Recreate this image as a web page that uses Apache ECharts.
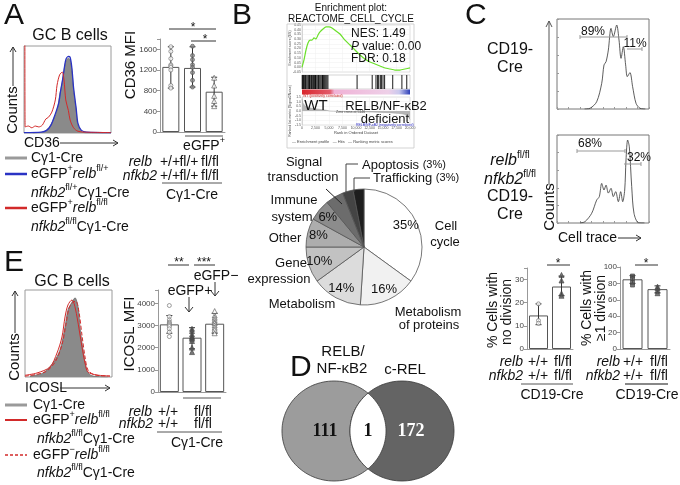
<!DOCTYPE html>
<html><head><meta charset="utf-8">
<script src="https://cdn.jsdelivr.net/npm/echarts@6.0.0/dist/echarts.min.js"></script>
<style>html,body{margin:0;padding:0;background:#fff}#c{width:680px;height:485px}</style>
</head><body><div id="c"></div>
<script>
const F = 'Liberation Sans';
const PI2 = Math.PI / 2;

// ---------- Panel A: CD36 histogram ----------
const aGray = [[10,0],[18,0.5],[24,2],[30,8],[36,21],[39,30],[41,44],[44,58],[45,66],[48,82],[51,86],[53,84],[55,72],[57,49],[60,26],[62,9],[67,1],[76,0],[100,0]];
const aBlue = [[0,0.5],[20,1],[26,3],[31,9],[36,22],[40,35],[42,48],[45,65],[48,84],[51,88],[53,87],[55,75],[57,52],[60,28],[62,11],[66,3],[72,1],[100,0.5]];
const aRed  = [[1,120],[1.3,7],[5,8],[9,6],[13,8],[17,7],[21,9],[25,16],[28,18],[32,24],[36,38],[38,55],[41,67],[44,70],[46,61],[48,38],[51,26],[53,15],[57,6],[62,2],[70,1],[100,0.5]];
// ---------- Panel A: CD36 MFI bars ----------
const aBars  = [1260, 1240, 780];
const aErrLo = [850, 870, 500];
const aErrHi = [1650, 1650, 1060];
const aDots0 = [1650,1560,1420,1300,1280,1250,1200,900,850];
const aDots1 = [1660,1480,1400,1300,1250,1150,1000,870];
const aDots2 = [1050,900,700,600,500];
// ---------- Panel B: GSEA ----------
const esCurve = [[0,0],[370,0.078],[741,0.184],[1111,0.259],[1481,0.29],[1852,0.29],[2222,0.312],[2593,0.301],[2963,0.344],[3333,0.376],[3889,0.407],[4444,0.429],[5000,0.429],[5556,0.418],[6296,0.386],[7037,0.354],[7963,0.29],[8889,0.237],[9815,0.184],[10741,0.131],[11667,0.088],[12593,0.056],[13519,0.035],[14444,0.014],[15370,-0.007],[16296,-0.018],[17222,-0.029],[18148,-0.029],[19074,-0.018],[20000,-0.007]];
const gseaHits = [50,150,300,420,600,700,900,1100,1250,1400,1500,1700,1800,2000,2100,2300,2500,2600,2800,3000,3100,3300,3500,3700,3800,4000,4200,4400,4600,4800,10200,13000,13700,14000,14200,14500,14700,15000,15300,16800,18500,19400];
const rankMetric = [[0,1.3],[150,0.9],[400,0.65],[900,0.45],[1800,0.3],[3000,0.2],[4500,0.08],[5146,0],[8000,-0.05],[12000,-0.1],[16000,-0.18],[18500,-0.3],[19500,-0.5],[20000,-0.9]];
// ---------- Panel B: pie ----------
const pieCats = ['Cell cycle','Metabolism of proteins','Metabolism','Gene expression','Other','Immune system','Signal transduction','Apoptosis','Trafficking'];
const pieVals = [35,16,14,10,8,6,5,3,3];
const pieColors = ['#ffffff','#f1f1f1','#dcdcdc','#c2c2c2','#adadad','#8c8c8c','#6c6c6c','#444444','#1e1e1e'];
// ---------- Panel C: cell trace histograms ----------
const cTop = [[30,0],[35.9,0.8],[43.1,8],[48.6,28.5],[51.1,49],[53.3,52.5],[55.8,65.5],[58.7,89.6],[61.2,80.4],[64.9,93.3],[67.4,76.7],[69.6,56.3],[72.1,69.2],[74.6,49],[76.4,36],[79.3,40.4],[82.2,24.8],[85.9,6.3],[90.2,0.8],[96,0]];
const cBot = [[25,0],[30.4,1.5],[37.7,11],[43.1,26],[46,30],[48.6,45],[51.1,37.5],[53.3,43],[55.8,34],[58.7,39.4],[61.2,30],[63.8,35.6],[66.7,24.2],[69.2,35.6],[71.4,24.2],[73.6,37.5],[75,71.6],[76.8,94.3],[78.6,86.7],[81.2,41.3],[83.7,11],[88.4,0.4],[95,0]];
// ---------- Panel C: division bars ----------
const c1Bars = [14.5, 27];
const c1ErrLo = [10.5, 23];
const c1ErrHi = [19.5, 31.5];
const c1Dots0 = [19.5, 12.3, 11.1];
const c1Dots1 = [32, 29.6, 24, 23];
const c2Bars = [85, 73];
const c2ErrLo = [80, 68.5];
const c2ErrHi = [89.5, 77];
const c2Dots0 = [89, 86, 81, 78];
const c2Dots1 = [76, 74, 71, 68];
// ---------- Panel E: ICOSL histogram ----------
const eGray = [[5.7,1.1],[20.7,4.6],[32.2,16],[40.2,31],[46,57.5],[49.4,77],[54,86],[57.5,91],[61,80.5],[63.2,57.5],[66.7,31],[70.1,11.5],[72.4,4.6],[78.2,1.1],[95,0]];
const eRed = [[0,2],[13.8,4.6],[28.7,11.5],[36.8,27.6],[42.5,46],[46,69],[49.4,82.8],[54,88.5],[56.3,85],[59.8,69],[65.5,34.5],[69,16],[72.4,5.7],[82.8,2.3],[97.7,1.1]];
const eRedDash = [[0,1],[23,5.7],[34.5,17],[42.5,37],[47,60],[50.6,79],[55.2,86],[58.6,87],[62,75],[65.5,48],[69,23],[72.4,8],[80.5,2.3],[97.7,1.1]];
// ---------- Panel E: ICOSL MFI bars ----------
const eBars = [3050, 2450, 3080];
const eErrLo = [2650, 1950, 2650];
const eErrHi = [3450, 2900, 3550];
const eDots0 = [3900,3400,3250,3150,3100,3050,3000,2950,2850,2700,2500];
const eDots1 = [2850,2750,2600,2500,2450,2400,2300,2000,1800];
const eDots2 = [3650,3450,3350,3250,3150,3100,3000,2900,2800,2650];
// ---------- Panel D: Venn ----------
const vennSets = ['RELB/NF-κB2', 'c-REL'];
const vennOnly = [111, 172];
const vennBoth = 1;

// ================= helpers =================
const R = {
  n:{fontFamily:F,fontSize:14,lineHeight:20,verticalAlign:'middle',fill:'#111'},
  i:{fontFamily:F,fontSize:14,fontStyle:'italic',lineHeight:20,verticalAlign:'middle',fill:'#111'},
  s:{fontFamily:F,fontSize:9,verticalAlign:'top',fill:'#111'}
};
const R16 = {
  n:{fontFamily:F,fontSize:16,lineHeight:22,verticalAlign:'middle',fill:'#111'},
  i:{fontFamily:F,fontSize:16,fontStyle:'italic',lineHeight:22,verticalAlign:'middle',fill:'#111'},
  s:{fontFamily:F,fontSize:10,verticalAlign:'top',fill:'#111'}
};
const R12 = {
  n:{fontFamily:F,fontSize:12,lineHeight:14,verticalAlign:'middle',fill:'#111'},
  i:{fontFamily:F,fontSize:12,fontStyle:'italic',lineHeight:14,verticalAlign:'middle',fill:'#111'}
};
function T(x, y, text, size, o) {
  o = o || {};
  return {type:'text', x:x, y:y, rotation:o.rot||0, z:100, silent:true,
    style:{text:text, font:(o.italic?'italic ':'')+(o.bold?'bold ':'')+size+'px '+(o.family||F),
      fill:o.color||'#111', textAlign:o.align||'left', textVerticalAlign:'middle', rich:o.rich}};
}
function L(x1,y1,x2,y2,o) { o=o||{}; return {type:'line', z:100, silent:true, shape:{x1:x1,y1:y1,x2:x2,y2:y2}, style:{stroke:o.color||'#333', lineWidth:o.w||1, lineDash:o.dash||null}}; }
function P(pts,o) { o=o||{}; return {type:'polyline', z:100, silent:true, shape:{points:pts}, style:{stroke:o.color||'#333', lineWidth:o.w||1, fill:null}}; }

function errRender(params, api) {
  const x = api.value(0), p1 = api.coord([x, api.value(1)]), p2 = api.coord([x, api.value(2)]);
  const w = 3, st = {stroke:'#333', lineWidth:1};
  return {type:'group', children:[
    {type:'line', shape:{x1:p1[0],y1:p1[1],x2:p2[0],y2:p2[1]}, style:st},
    {type:'line', shape:{x1:p1[0]-w,y1:p1[1],x2:p1[0]+w,y2:p1[1]}, style:st},
    {type:'line', shape:{x1:p2[0]-w,y1:p2[1],x2:p2[0]+w,y2:p2[1]}, style:st}]};
}
function barSeries(ai, bars, lo, hi, dots, dstyle, bw) {
  const out = [{type:'bar', xAxisIndex:ai, yAxisIndex:ai, data:bars, barWidth:bw, z:2, silent:true,
    itemStyle:{color:'#fff', borderColor:'#555', borderWidth:1}}];
  out.push({type:'custom', xAxisIndex:ai, yAxisIndex:ai, z:3, silent:true,
    data: bars.map((v,i)=>[i, lo[i], hi[i]]), renderItem: errRender});
  dots.forEach((arr, i) => {
    const s = dstyle[i];
    out.push({type:'scatter', xAxisIndex:ai, yAxisIndex:ai, z:4, silent:true, symbol:s.sym, symbolSize:s.size||4,
      data: arr.map(v=>[i, v]), itemStyle:{color:s.fill, borderColor:s.stroke, borderWidth:0.8}});
  });
  return out;
}
function hidX(gi,min,max){return {type:'value',gridIndex:gi,min:min,max:max,show:false};}
function catX(gi,n){return {type:'category',gridIndex:gi,data:Array.from({length:n},(_, i)=>String(i)),
  axisLine:{show:true,lineStyle:{color:'#999'}},axisTick:{show:false},axisLabel:{show:false}};}
function barY(gi,max,interval){return {type:'value',gridIndex:gi,min:0,max:max,interval:interval,
  axisLine:{show:true,lineStyle:{color:'#999'}},axisTick:{show:true,length:3,lineStyle:{color:'#999'}},
  axisLabel:{fontSize:8,color:'#444',margin:3,fontFamily:F,formatter:v=>(v%interval===0?String(v):'')},
  splitLine:{show:false}};}
function histAxes(gi, ticks){
  const base = {type:'value',gridIndex:gi,min:0,max:100,axisLine:{show:false},axisLabel:{show:false},splitLine:{show:false},
    axisTick:{show:ticks,inside:true,length:2,lineStyle:{color:'#999'}}};
  return [Object.assign({interval:12.5},base), Object.assign({interval:20},base)];
}
function histLine(ai, data, color, w, o) {
  o = o || {};
  const s = {type:'line', xAxisIndex:ai, yAxisIndex:ai, data:data, smooth:0.3, symbol:'none', silent:true,
    lineStyle:{color:color, width:w, type:o.dash?'dashed':'solid'}, z:o.z||2};
  if (o.area) s.areaStyle = {color:o.area, opacity:1};
  return s;
}

// ================= grids & axes =================
const grids = [
  {left:24, top:46, width:87, height:87, show:true, borderColor:'#9a9a9a', borderWidth:1},
  {left:160, top:39, width:65, height:93},
  {left:302, top:25, width:108, height:47, show:true, borderColor:'#ccc', borderWidth:0.6},
  {left:302, top:75, width:108, height:14, show:true, borderColor:'#bbb', borderWidth:0.6},
  {left:302, top:97, width:108, height:28, show:true, borderColor:'#ccc', borderWidth:0.6},
  {left:557, top:19, width:92, height:90, show:true, borderColor:'#777', borderWidth:1},
  {left:557, top:135, width:92, height:88, show:true, borderColor:'#777', borderWidth:1},
  {left:527, top:268, width:46, height:81},
  {left:620, top:267, width:50, height:82},
  {left:25, top:290, width:87, height:87, show:true, borderColor:'#9a9a9a', borderWidth:1},
  {left:158, top:290, width:68, height:102},
  {left:266, top:381, width:204, height:100}
];
const tiny = {fontSize:3.5, color:'#555', margin:1, fontFamily:F};
const h5 = histAxes(5,true), h6 = histAxes(6,true);
const xAxes = [
  hidX(0,0,100), catX(1,3),
  {type:'value',gridIndex:2,min:0,max:20000,interval:2500,axisLine:{show:false},axisTick:{show:false},axisLabel:{show:false},splitLine:{show:true,lineStyle:{color:'#eee',width:0.5}}},
  hidX(3,0,20000),
  {type:'value',gridIndex:4,min:0,max:20000,interval:2500,axisLine:{show:false},axisTick:{show:false},
    axisLabel:Object.assign({formatter:v=>v.toLocaleString('en-US')},tiny),splitLine:{show:true,lineStyle:{color:'#eee',width:0.5}}},
  h5[0], h6[0], catX(7,2), catX(8,2), hidX(9,0,100), catX(10,3), hidX(11,-1.5,1.5)
];
const yAxes = [
  hidX(0,0,100), barY(1,1800,400),
  {type:'value',gridIndex:2,min:-0.05,max:0.45,interval:0.05,axisLine:{show:true,lineStyle:{color:'#bbb',width:0.5}},axisTick:{show:false},
    axisLabel:Object.assign({formatter:v=>v.toFixed(2)},tiny),splitLine:{show:true,lineStyle:{color:'#eee',width:0.5}}},
  hidX(3,0,1),
  {type:'value',gridIndex:4,min:-1.5,max:1.5,interval:0.5,axisLine:{show:true,lineStyle:{color:'#bbb',width:0.5}},axisTick:{show:false},
    axisLabel:Object.assign({formatter:v=>v.toFixed(1)},tiny),splitLine:{show:true,lineStyle:{color:'#eee',width:0.5}}},
  h5[1], h6[1], barY(7,35,10), barY(8,100,20), hidX(9,0,100), barY(10,4600,1000), hidX(11,-1,1)
];

// ================= series =================
const series = [];
series.push(histLine(0, aGray, '#6d6d6d', 0.8, {area:'#8a8a8a'}));
series.push(histLine(0, aBlue, '#2a33c4', 1.3, {z:3}));
series.push(histLine(0, aRed, '#d22a2a', 1, {z:4}));
const openC = {sym:'circle', fill:'#fff', stroke:'#666'};
const fillC = {sym:'circle', fill:'#888', stroke:'#555'};
const openT = {sym:'triangle', fill:'#fff', stroke:'#555', size:5};
const fillT = {sym:'triangle', fill:'#555', stroke:'#444', size:5};
const fillS = {sym:'rect', fill:'#555', stroke:'#444', size:4};
series.push(...barSeries(1, aBars, aErrLo, aErrHi, [aDots0, aDots1, aDots2], [openC, fillC, openT], 17));
// GSEA
series.push({type:'line', xAxisIndex:2, yAxisIndex:2, data:esCurve, smooth:0.2, symbol:'none', silent:true, lineStyle:{color:'#6be02a', width:1.2}});
series.push({type:'custom', xAxisIndex:3, yAxisIndex:3, silent:true, data:gseaHits.map(r=>[r]),
  renderItem:(p, api)=>{const a=api.coord([api.value(0),0]), b=api.coord([api.value(0),1]);
    return {type:'line', shape:{x1:a[0],y1:a[1],x2:b[0],y2:b[1]}, style:{stroke:'#000', lineWidth:0.9}};}});
series.push({type:'line', xAxisIndex:4, yAxisIndex:4, data:rankMetric, smooth:0.3, symbol:'none', silent:true, lineStyle:{color:'#999', width:0.5}, areaStyle:{color:'#b5b5b5', opacity:1}});
// C
series.push(histLine(5, cTop, '#333', 0.8));
series.push(histLine(6, cBot, '#333', 0.8));
series.push(...barSeries(7, c1Bars, c1ErrLo, c1ErrHi, [c1Dots0, c1Dots1], [openC, fillT], 19));
series.push(...barSeries(8, c2Bars, c2ErrLo, c2ErrHi, [c2Dots0, c2Dots1], [fillS, fillT], 20));
// E
series.push(histLine(9, eGray, '#6d6d6d', 0.8, {area:'#8a8a8a'}));
series.push(histLine(9, eRedDash, '#d22a2a', 1, {dash:true, z:3}));
series.push(histLine(9, eRed, '#d22a2a', 1, {z:4}));
series.push(...barSeries(10, eBars, eErrLo, eErrHi, [eDots0, eDots1, eDots2], [openC, fillT, openT], 19));
// Pie
const pieData = pieCats.map((n,i)=>({name:n, value:pieVals[i], itemStyle:{color:pieColors[i]}}));
series.push({type:'pie', center:[364,247], radius:58, startAngle:90, clockwise:true, silent:true, animation:false,
  label:{show:false}, labelLine:{show:false}, itemStyle:{borderColor:'#555', borderWidth:0.8}, data:pieData});
series.push({type:'pie', center:[364,247], radius:[30,58], startAngle:90, clockwise:true, silent:true, animation:false,
  itemStyle:{color:'rgba(0,0,0,0)', borderWidth:0}, labelLine:{show:false},
  label:{show:true, position:'inside', fontSize:13, fontFamily:F, color:'#111', formatter:p=>(p.value>=5?p.value+'%':'')},
  data:pieCats.map((n,i)=>({name:n, value:pieVals[i]}))});
// Venn
const VENN_X = [-0.5, 0.5], VENN_RX = 0.765, VENN_RY = 1;
series.push({type:'custom', xAxisIndex:11, yAxisIndex:11, silent:true,
  data:[[VENN_X[0],0,vennOnly[0]],[VENN_X[1],0,vennOnly[1]],[0,0,vennBoth]],
  renderItem:(params, api)=>{
    const s = api.size([1,1]), rx = VENN_RX*s[0], ry = VENN_RY*s[1];
    const cL = api.coord([VENN_X[0],0]), cR = api.coord([VENN_X[1],0]);
    const i = params.dataIndex, mid = (cL[0]+cR[0])/2;
    const num = (x,y,txt,col)=>({type:'text', x:x, y:y, style:{text:String(txt), font:'bold 18px Liberation Serif', fill:col,
      textAlign:'center', textVerticalAlign:'middle'}});
    if (i < 2) {
      const c = i===0 ? cL : cR, pts = [];
      for (let k=0;k<120;k++){const t=k/120*2*Math.PI; pts.push([c[0]+rx*Math.cos(t), c[1]+ry*Math.sin(t)]);}
      const tx = i===0 ? (c[0]-rx+mid)/2 : (c[0]+rx+mid)/2;
      return {type:'group', children:[
        {type:'polygon', shape:{points:pts}, style:{fill:i?'#646464':'#9c9c9c', stroke:'#3a3a3a', lineWidth:0.8}},
        num(tx, c[1], api.value(2), i?'#fff':'#111')]};
    }
    const d = cR[0]-cL[0], t0 = Math.acos(d/2/rx), pts = [], N = 40;
    for (let k=0;k<=N;k++){const t=-t0+2*t0*k/N; pts.push([cL[0]+rx*Math.cos(t), cL[1]+ry*Math.sin(t)]);}
    for (let k=0;k<=N;k++){const t=t0-2*t0*k/N; pts.push([cR[0]-rx*Math.cos(t), cR[1]+ry*Math.sin(t)]);}
    return {type:'group', children:[
      {type:'polygon', shape:{points:pts}, style:{fill:'#fff', stroke:'#3a3a3a', lineWidth:0.8}},
      num(mid, cL[1], api.value(2), '#111')]};
  }});

// ================= graphic texts =================
const g = [];
// Panel A
g.push(T(4,16,'A',30));
g.push(T(70,36,'GC B cells',16,{align:'center'}));
g.push(T(13,110,'Counts',15,{align:'center',rot:PI2}));
g.push(L(13,86,13,47), P([[10,52],[13,47],[16,52]]));
g.push(T(24,143,'CD36',14));
g.push(L(60,143,118,143), P([[113,140],[118,143],[113,146]]));
g.push(L(5,158,27,158,{color:'#9a9a9a',w:3}), T(31,158,'Cγ1-Cre',14));
g.push(L(5,174,27,174,{color:'#2a33c4',w:2.5}), T(31,174,'{n|eGFP}{s|+}{i|relb}{s|fl/+}',14,{rich:R}));
g.push(T(31,193,'{i|nfkb2}{s|fl/+}{n|Cγ1-Cre}',14,{rich:R}));
g.push(L(5,208,27,208,{color:'#d22a2a',w:2.5}), T(31,208,'{n|eGFP}{s|+}{i|relb}{s|fl/fl}',14,{rich:R}));
g.push(T(31,227,'{i|nfkb2}{s|fl/fl}{n|Cγ1-Cre}',14,{rich:R}));
g.push(T(131,65,'CD36 MFI',15,{align:'center',rot:PI2}));
g.push(L(169,29,216,29), T(193,28,'*',12,{align:'center'}));
g.push(L(191,41,216,41), T(205,40,'*',12,{align:'center'}));
g.push(L(185,136,223,136,{color:'#555'}), T(204,146,'{n|eGFP}{s|+}',14,{rich:R,align:'center'}));
g.push(T(152,162,'relb',14,{italic:true,align:'right'}), T(170,162,'+/+',14,{align:'center'}), T(189,162,'fl/+',14,{align:'center'}), T(210,162,'fl/fl',14,{align:'center'}));
g.push(T(157,176,'nfkb2',14,{italic:true,align:'right'}), T(170,176,'+/+',14,{align:'center'}), T(189,176,'fl/+',14,{align:'center'}), T(210,176,'fl/fl',14,{align:'center'}));
g.push(L(162,183,222,183,{color:'#555'}), T(192,195,'Cγ1-Cre',14,{align:'center'}));
// Panel B – GSEA
g.push(T(232,16,'B',30));
g.push(T(351,8,'Enrichment plot:',10,{align:'center'}));
g.push(T(351,19,'REACTOME_CELL_CYCLE',10,{align:'center'}));
g.push({type:'rect', z:90, silent:true, shape:{x:287,y:24,width:127,height:124}, style:{fill:null, stroke:'#c8c8c8', lineWidth:0.8}});
g.push({type:'rect', z:90, silent:true, shape:{x:302,y:89.5,width:108,height:5}, style:{fill:{type:'linear',x:0,y:0,x2:1,y2:0,colorStops:[
  {offset:0,color:'#d9262c'},{offset:0.26,color:'#e25a6a'},{offset:0.3,color:'#f0b2d6'},{offset:0.8,color:'#eed0e8'},{offset:0.9,color:'#c9c9ee'},{offset:1,color:'#2d3fb8'}]}}});
g.push(T(351,34,'NES: 1.49',12));
g.push(T(351,47,'{i|P}{n| value: 0.00}',12,{rich:R12}));
g.push(T(351,59,'FDR: 0.18',12));
g.push(T(316,106,'WT',15,{align:'center'}));
g.push(T(386,106,'RELB/NF-κB2',13,{align:'center'}));
g.push(T(385,119,'deficient',13,{align:'center'}));
g.push(T(303,96.5,'WT (positively correlated)',3.5,{color:'#c22'}));
g.push(T(336,112,'Zero cross at 5146',3.5,{color:'#444'}));
g.push(T(356,125,'RELB/NF-κB2 (negatively correlated)',3.5,{color:'#33c'}));
g.push(T(356,133,'Rank in Ordered Dataset',4,{align:'center',color:'#444'}));
g.push(T(292,141.5,'— Enrichment profile   — Hits   — Ranking metric scores',4,{color:'#444'}));
g.push(T(290,48,'Enrichment score (ES)',3.5,{align:'center',rot:PI2,color:'#444'}));
g.push(T(290,111,'Ranked list metric (Signal2Noise)',3.5,{align:'center',rot:PI2,color:'#444'}));
// Panel B – pie labels
g.push(T(304,162,'Signal',13,{align:'center'}), T(303,177,'transduction',13,{align:'center'}));
g.push(L(326,189,342,204,{color:'#222'}));
g.push(T(294,200,'Immune',13,{align:'center'}), T(292,217,'system',13,{align:'center'}));
g.push(T(285,238,'Other',13,{align:'center'}));
g.push(T(291,263,'Gene',13,{align:'center'}), T(279,279,'expression',13,{align:'center'}));
g.push(T(302,304,'Metabolism',13,{align:'center'}));
g.push(T(428,312,'Metabolism',13,{align:'center'}), T(429,325,'of proteins',13,{align:'center'}));
g.push(T(446,226,'Cell',13,{align:'center'}), T(445,242,'cycle',13,{align:'center'}));
g.push(P([[346,192],[346,164],[358,164]],{color:'#444'}), T(362,165,'{n|Apoptosis }{m|(3%)}',13,{rich:{n:{fontFamily:F,fontSize:13,fill:'#111'},m:{fontFamily:F,fontSize:11,fill:'#111'}}}));
g.push(P([[354,192],[354,178],[370,178]],{color:'#444'}), T(373,178,'{n|Trafficking }{m|(3%)}',13,{rich:{n:{fontFamily:F,fontSize:13,fill:'#111'},m:{fontFamily:F,fontSize:11,fill:'#111'}}}));
// Panel C
g.push(T(465,16,'C',30));
g.push(T(510,50,'CD19-',16,{align:'center'}), T(510,68,'Cre',16,{align:'center'}));
g.push(T(510,161,'{i|relb}{s|fl/fl}',16,{rich:R16,align:'center'}));
g.push(T(510,180,'{i|nfkb2}{s|fl/fl}',16,{rich:R16,align:'center'}));
g.push(T(510,197,'CD19-',16,{align:'center'}), T(510,215,'Cre',16,{align:'center'}));
g.push(L(549,185,549,21,{color:'#555'}), P([[546,27],[549,21],[552,27]],{color:'#555'}));
g.push(T(550,207,'Counts',15,{align:'center',rot:PI2}));
g.push(T(558,238,'Cell trace',14), L(618,238,641,238), P([[636,235],[641,238],[636,241]]));
g.push(T(593,32,'89%',12,{align:'center'}), L(580,37,627,37,{color:'#999'}), L(580,35,580,39,{color:'#999'}), L(627,35,627,39,{color:'#999'}));
g.push(T(635,44,'11%',12,{align:'center'}), L(627,49,642,49,{color:'#999'}), L(642,47,642,51,{color:'#999'}));
g.push(T(590,144,'68%',12,{align:'center'}), L(577,151,625,151,{color:'#999'}), L(577,149,577,153,{color:'#999'}), L(625,149,625,153,{color:'#999'}));
g.push(T(639,158,'32%',12,{align:'center'}), L(624,164,641,164,{color:'#999'}), L(641,162,641,166,{color:'#999'}));
g.push(T(493,310,'% Cells with',14,{align:'center',rot:PI2}), T(507,312,'no division',14,{align:'center',rot:PI2}));
g.push(T(587,308,'% Cells with',14,{align:'center',rot:PI2}), T(601,308,'≥1 division',14,{align:'center',rot:PI2}));
g.push(L(547,265,570,265), T(558,264,'*',12,{align:'center'}));
g.push(L(635,265,658,265), T(646,264,'*',12,{align:'center'}));
g.push(T(523,362,'relb',14,{italic:true,align:'right'}), T(538,362,'+/+',14,{align:'center'}), T(563,362,'fl/fl',14,{align:'center'}));
g.push(T(523,376,'nfkb2',14,{italic:true,align:'right'}), T(538,376,'+/+',14,{align:'center'}), T(563,376,'fl/fl',14,{align:'center'}));
g.push(L(521,384,573,384,{color:'#555'}), T(552,395,'CD19-Cre',14,{align:'center'}));
g.push(T(620,362,'relb',14,{italic:true,align:'right'}), T(633,362,'+/+',14,{align:'center'}), T(659,362,'fl/fl',14,{align:'center'}));
g.push(T(620,376,'nfkb2',14,{italic:true,align:'right'}), T(633,376,'+/+',14,{align:'center'}), T(659,376,'fl/fl',14,{align:'center'}));
g.push(L(625,384,668,384,{color:'#888',w:2}), T(647,395,'CD19-Cre',14,{align:'center'}));
// Panel D
g.push(T(290,368,'D',30));
g.push(T(343,352,'RELB/',15,{align:'center'}), T(342,369,'NF-κB2',15,{align:'center'}));
g.push(T(405,370,'c-REL',15,{align:'center'}));
// Panel E
g.push(T(4,263,'E',30));
g.push(T(72,282,'GC B cells',16,{align:'center'}));
g.push(T(15,357,'Counts',15,{align:'center',rot:PI2}));
g.push(L(15,333,15,291), P([[12,296],[15,291],[18,296]]));
g.push(T(25,388,'ICOSL',14), L(60,388,110,388), P([[105,385],[110,388],[105,391]]));
g.push(L(5,405,27,405,{color:'#9a9a9a',w:3}), T(33,405,'Cγ1-Cre',14));
g.push(L(5,420,27,420,{color:'#d22a2a',w:2}), T(33,420,'{n|eGFP}{s|+}{i|relb}{s|fl/fl}',14,{rich:R}));
g.push(T(37,439,'{i|nfkb2}{s|fl/fl}{n|Cγ1-Cre}',14,{rich:R}));
g.push(L(5,455,27,455,{color:'#d22a2a',w:1.5,dash:[3,2]}), T(33,455,'{n|eGFP}{s|−}{i|relb}{s|fl/fl}',14,{rich:R}));
g.push(T(37,473,'{i|nfkb2}{s|fl/fl}{n|Cγ1-Cre}',14,{rich:R}));
g.push(T(130,334,'ICOSL MFI',15,{align:'center',rot:PI2}));
g.push(L(168,265,189,265), T(179,263,'**',12,{align:'center'}));
g.push(L(194,265,215,265), T(204,263,'***',12,{align:'center'}));
g.push(T(190,291,'{n|eGFP+}',14,{rich:R,align:'center'}), L(189,297,189,312), P([[185,307],[189,312],[193,307]]));
g.push(T(216,276,'eGFP−',14,{align:'center'}), L(215,282,215,296), P([[211,291],[215,296],[219,291]]));
g.push(L(183,398,221,398,{color:'#555'}));
g.push(T(152,412,'relb',14,{italic:true,align:'right'}), T(168,412,'+/+',14,{align:'center'}), T(203,412,'fl/fl',14,{align:'center'}));
g.push(T(153,424,'nfkb2',14,{italic:true,align:'right'}), T(168,424,'+/+',14,{align:'center'}), T(203,424,'fl/fl',14,{align:'center'}));
g.push(L(157,432,222,432,{color:'#555'}), T(197,443,'Cγ1-Cre',14,{align:'center'}));

const chart = echarts.init(document.getElementById('c'), null, {renderer:'canvas'});
chart.setOption({
  animation:false, backgroundColor:'#fff', textStyle:{fontFamily:F},
  grid:grids, xAxis:xAxes, yAxis:yAxes, series:series, graphic:{elements:g}
});
</script></body></html>
